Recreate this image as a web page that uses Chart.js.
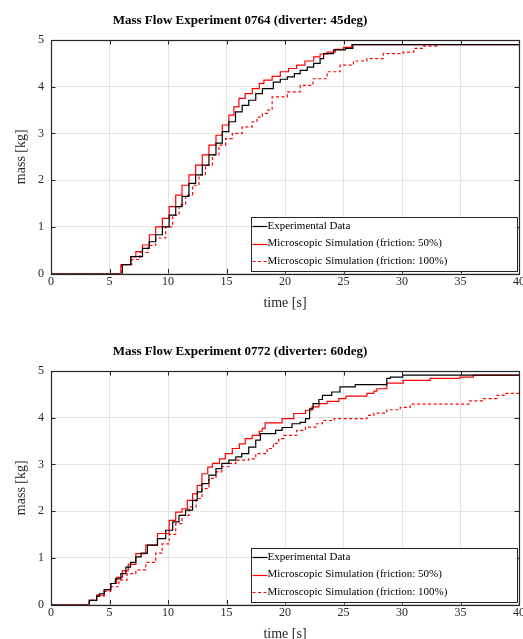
<!DOCTYPE html>
<html>
<head>
<meta charset="utf-8">
<script src="https://cdn.jsdelivr.net/npm/chart.js@4.4.1/dist/chart.umd.min.js"></script>
<style>
  html, body { margin: 0; padding: 0; background: #fff; overflow: hidden; width: 523px; height: 639px; }
  .wrap { position: absolute; left: 0; width: 523px; height: 320px; }
  #w1 { top: 0; }
  #w2 { top: 331px; }
</style>
</head>
<body>
<div class="wrap" id="w1"><canvas id="c1" width="523" height="320"></canvas></div>
<div class="wrap" id="w2"><canvas id="c2" width="523" height="320"></canvas></div>
<script>
// ---------- Data (time [s] where mass steps to a new value, mass [kg]) ----------
const TITLE_0764 = 'Mass Flow Experiment 0764 (diverter: 45deg)';
const TITLE_0772 = 'Mass Flow Experiment 0772 (diverter: 60deg)';
const SERIES_NAMES = ['Experimental Data', 'Microscopic Simulation (friction: 50%)', 'Microscopic Simulation (friction: 100%)'];
const X_TICKS = [0, 5, 10, 15, 20, 25, 30, 35, 40];
const Y_TICKS = [0, 1, 2, 3, 4, 5];

// Experiment 0764
const T_EXP_0764 = [0, 6.1, 6.82, 7.82, 8.4, 8.95, 9.52, 10.1, 10.66, 11.2, 11.79, 12.36, 12.93, 13.5, 14.1, 14.64, 15.2, 15.77, 16.34, 16.9, 17.5, 18.07, 19.0, 19.6, 20.2, 20.8, 21.3, 21.9, 22.45, 23.0, 23.3, 24.15, 25.15, 25.8, 40];
const M_EXP_0764 = [0, 0.19, 0.36, 0.54, 0.68, 0.83, 1.00, 1.25, 1.43, 1.65, 1.93, 2.11, 2.32, 2.54, 2.79, 3.04, 3.25, 3.46, 3.60, 3.71, 3.85, 3.96, 4.10, 4.16, 4.21, 4.28, 4.35, 4.42, 4.50, 4.60, 4.71, 4.79, 4.82, 4.90, 4.90];
const T_SIM50_0764 = [0, 5.97, 6.82, 7.25, 7.82, 8.4, 8.95, 9.52, 10.1, 10.66, 11.2, 11.79, 12.36, 12.93, 13.5, 14.1, 14.64, 15.2, 15.63, 16.06, 16.6, 17.2, 17.8, 18.2, 18.9, 19.6, 20.3, 21.0, 21.7, 22.45, 23.0, 23.6, 24.3, 25.0, 25.7, 40];
const M_SIM50_0764 = [0, 0.19, 0.36, 0.47, 0.61, 0.83, 1.00, 1.18, 1.43, 1.68, 1.89, 2.11, 2.32, 2.54, 2.75, 2.96, 3.18, 3.39, 3.57, 3.75, 3.85, 3.96, 4.07, 4.14, 4.22, 4.32, 4.39, 4.46, 4.55, 4.64, 4.70, 4.74, 4.80, 4.84, 4.90, 4.90];
const T_SIM100_0764 = [0, 6.05, 6.9, 7.6, 8.3, 8.95, 9.8, 10.4, 10.95, 11.5, 12.1, 12.65, 13.2, 13.8, 14.35, 14.92, 15.5, 16.34, 17.2, 17.6, 18.07, 18.5, 18.9, 20.2, 21.3, 22.4, 23.6, 24.7, 25.85, 27.0, 28.4, 30.1, 31.0, 31.8, 33.0];
const M_SIM100_0764 = [0, 0.19, 0.30, 0.45, 0.60, 0.76, 1.00, 1.25, 1.47, 1.68, 1.89, 2.11, 2.32, 2.54, 2.75, 2.89, 3.00, 3.14, 3.25, 3.35, 3.43, 3.50, 3.78, 3.89, 4.03, 4.17, 4.32, 4.46, 4.55, 4.60, 4.71, 4.74, 4.82, 4.87, 4.87];

// Experiment 0772
const T_EXP_0772 = [0, 3.27, 3.9, 4.12, 4.55, 5.12, 5.5, 5.97, 6.4, 6.8, 7.25, 7.7, 8.24, 9.1, 9.8, 10.4, 10.94, 11.5, 12.1, 12.5, 12.9, 13.5, 14.1, 14.6, 15.2, 15.8, 16.3, 16.9, 17.5, 17.9, 19.2, 19.75, 20.6, 21.3, 21.75, 22.1, 22.4, 22.9, 23.2, 24.0, 24.7, 26.0, 28.7, 29.0, 30.06, 40];
const M_EXP_0772 = [0, 0.09, 0.18, 0.23, 0.32, 0.45, 0.55, 0.66, 0.80, 0.90, 1.02, 1.10, 1.27, 1.41, 1.59, 1.77, 1.91, 2.02, 2.23, 2.41, 2.59, 2.77, 2.91, 3.02, 3.09, 3.16, 3.23, 3.37, 3.52, 3.66, 3.73, 3.79, 3.87, 3.90, 3.98, 4.19, 4.30, 4.39, 4.48, 4.55, 4.66, 4.71, 4.84, 4.87, 4.91, 4.91];
const T_SIM50_0772 = [0, 3.27, 3.9, 4.55, 5.1, 5.6, 6.1, 6.6, 7.25, 8.1, 9.1, 10.1, 10.66, 11.2, 11.65, 12.1, 12.5, 12.9, 13.4, 13.8, 14.4, 14.9, 15.5, 16.1, 16.6, 17.2, 17.8, 18.05, 18.3, 19.75, 20.75, 21.75, 22.3, 22.9, 23.6, 24.6, 25.2, 27.0, 27.6, 27.85, 28.7, 30.1, 32.4, 34.95, 36.1, 40];
const M_SIM50_0772 = [0, 0.09, 0.20, 0.32, 0.45, 0.58, 0.72, 0.86, 1.09, 1.27, 1.52, 1.80, 1.98, 2.05, 2.23, 2.37, 2.55, 2.80, 2.94, 3.02, 3.12, 3.23, 3.34, 3.44, 3.55, 3.62, 3.71, 3.77, 3.89, 3.98, 4.09, 4.16, 4.23, 4.30, 4.35, 4.41, 4.46, 4.52, 4.57, 4.62, 4.74, 4.80, 4.84, 4.87, 4.91, 4.91];
const T_SIM100_0772 = [0, 3.27, 3.9, 4.55, 5.1, 5.8, 6.5, 7.25, 8.1, 8.95, 9.5, 10.1, 10.66, 11.2, 11.8, 12.4, 12.9, 13.5, 14.1, 14.6, 15.2, 15.8, 16.9, 17.5, 18.47, 19.0, 19.47, 19.9, 21.0, 21.75, 22.7, 23.2, 24.2, 27.0, 27.6, 28.7, 29.85, 30.7, 35.8, 36.95, 38.1, 38.9, 40];
const M_SIM100_0772 = [0, 0.09, 0.18, 0.28, 0.38, 0.52, 0.66, 0.74, 0.90, 1.10, 1.30, 1.50, 1.73, 1.91, 2.09, 2.27, 2.48, 2.70, 2.84, 2.95, 3.02, 3.09, 3.12, 3.23, 3.34, 3.45, 3.55, 3.62, 3.73, 3.80, 3.87, 3.94, 3.98, 4.05, 4.10, 4.17, 4.22, 4.29, 4.36, 4.41, 4.48, 4.52, 4.52];

// ---------- Styling ----------
const SERIF = "'Liberation Serif', 'Times New Roman', serif";
const AXIS_COLOR = '#262626';
const GRID_COLOR = '#e3e3e3';
const STYLES = [
  { color: '#000000', dash: [] },
  { color: '#ff0000', dash: [] },
  { color: '#ff0000', dash: [3, 2.5] }
];

function pts(t, m) { return t.map((x, i) => ({ x: x, y: m[i] })); }

const matlabPlugin = {
  id: 'matlabDecor',
  afterDraw(chart, args, opts) {
    const ctx = chart.ctx;
    const a = chart.chartArea;
    const xs = chart.scales.x, ys = chart.scales.y;
    ctx.save();
    // inward ticks
    ctx.strokeStyle = AXIS_COLOR;
    ctx.lineWidth = 1;
    ctx.beginPath();
    const tl = 4.5;
    X_TICKS.forEach(v => {
      const px = Math.round(xs.getPixelForValue(v)) + 0.5;
      ctx.moveTo(px, a.bottom); ctx.lineTo(px, a.bottom - tl);
      ctx.moveTo(px, a.top); ctx.lineTo(px, a.top + tl);
    });
    Y_TICKS.forEach(v => {
      const py = Math.round(ys.getPixelForValue(v)) + 0.5;
      ctx.moveTo(a.left, py); ctx.lineTo(a.left + tl, py);
      ctx.moveTo(a.right, py); ctx.lineTo(a.right - tl, py);
    });
    ctx.stroke();
    // box
    ctx.strokeStyle = AXIS_COLOR;
    ctx.lineWidth = 1.2;
    ctx.strokeRect(Math.round(a.left) + 0.5, Math.round(a.top) + 0.5, Math.round(a.right - a.left), Math.round(a.bottom - a.top));

    // legend
    const lw = 266, lh = 54;
    const lx = Math.round(a.right - 2 - lw) + 0.5, ly = Math.round(a.bottom - 3 - lh) + 0.5;
    ctx.fillStyle = '#ffffff';
    ctx.fillRect(lx, ly, lw, lh);
    ctx.strokeStyle = AXIS_COLOR;
    ctx.lineWidth = 1;
    ctx.strokeRect(lx, ly, lw, lh);
    ctx.font = '11px ' + SERIF;
    ctx.textBaseline = 'middle';
    ctx.textAlign = 'left';
    SERIES_NAMES.forEach((name, i) => {
      const yy = ly + 8.5 + i * 17.5;
      ctx.strokeStyle = STYLES[i].color;
      ctx.setLineDash(STYLES[i].dash);
      ctx.lineWidth = 1.2;
      ctx.beginPath();
      ctx.moveTo(lx + 1, Math.round(yy) + 0.5);
      ctx.lineTo(lx + 16, Math.round(yy) + 0.5);
      ctx.stroke();
      ctx.setLineDash([]);
      ctx.fillStyle = '#000000';
      ctx.fillText(name, lx + 16, yy);
    });

    // title
    ctx.font = 'bold 13px ' + SERIF;
    ctx.fillStyle = '#000000';
    ctx.textAlign = 'center';
    ctx.textBaseline = 'middle';
    ctx.fillText(opts.text, 240, 21);
    ctx.restore();
  }
};

function makeChart(canvasId, title, series) {
  const datasets = series.map((s, i) => ({
    label: SERIES_NAMES[i],
    data: pts(s[0], s[1]),
    borderColor: STYLES[i].color,
    borderDash: STYLES[i].dash,
    borderWidth: 1.2,
    pointRadius: 0,
    fill: false,
    stepped: 'before',
    tension: 0
  }));
  return new Chart(document.getElementById(canvasId), {
    type: 'line',
    data: { datasets: datasets },
    plugins: [matlabPlugin],
    options: {
      responsive: false,
      animation: false,
      events: [],
      layout: { padding: { top: 40, right: 4, left: 0, bottom: 0 } },
      plugins: {
        legend: { display: false },
        title: { display: false },
        tooltip: { enabled: false },
        matlabDecor: { text: title }
      },
      scales: {
        x: {
          type: 'linear', min: 0, max: 40,
          afterBuildTicks(scale) { scale.ticks = X_TICKS.map(v => ({ value: v })); },
          afterFit(scale) { scale.height = 46.5; scale.paddingLeft = 0; scale.paddingRight = 0; },
          ticks: { font: { family: SERIF, size: 12 }, color: AXIS_COLOR, padding: 1.5, maxRotation: 0, autoSkip: false },
          grid: { color: GRID_COLOR, lineWidth: 1, drawTicks: false },
          border: { display: false },
          title: { display: true, text: 'time [s]', font: { family: SERIF, size: 14 }, color: AXIS_COLOR, padding: { top: 0, bottom: 8.6 } }
        },
        y: {
          type: 'linear', min: 0, max: 5,
          afterBuildTicks(scale) { scale.ticks = Y_TICKS.map(v => ({ value: v })); },
          afterFit(scale) { scale.width = 51; scale.paddingTop = 0; scale.paddingBottom = 0; },
          ticks: { font: { family: SERIF, size: 12 }, color: AXIS_COLOR, padding: 7 },
          grid: { color: GRID_COLOR, lineWidth: 1, drawTicks: false },
          border: { display: false },
          title: { display: true, text: 'mass [kg]', font: { family: SERIF, size: 14 }, color: AXIS_COLOR, padding: { top: 13.3, bottom: 0 } }
        }
      }
    }
  });
}

makeChart('c1', TITLE_0764, [[T_EXP_0764, M_EXP_0764], [T_SIM50_0764, M_SIM50_0764], [T_SIM100_0764, M_SIM100_0764]]);
makeChart('c2', TITLE_0772, [[T_EXP_0772, M_EXP_0772], [T_SIM50_0772, M_SIM50_0772], [T_SIM100_0772, M_SIM100_0772]]);
</script>
</body>
</html>
